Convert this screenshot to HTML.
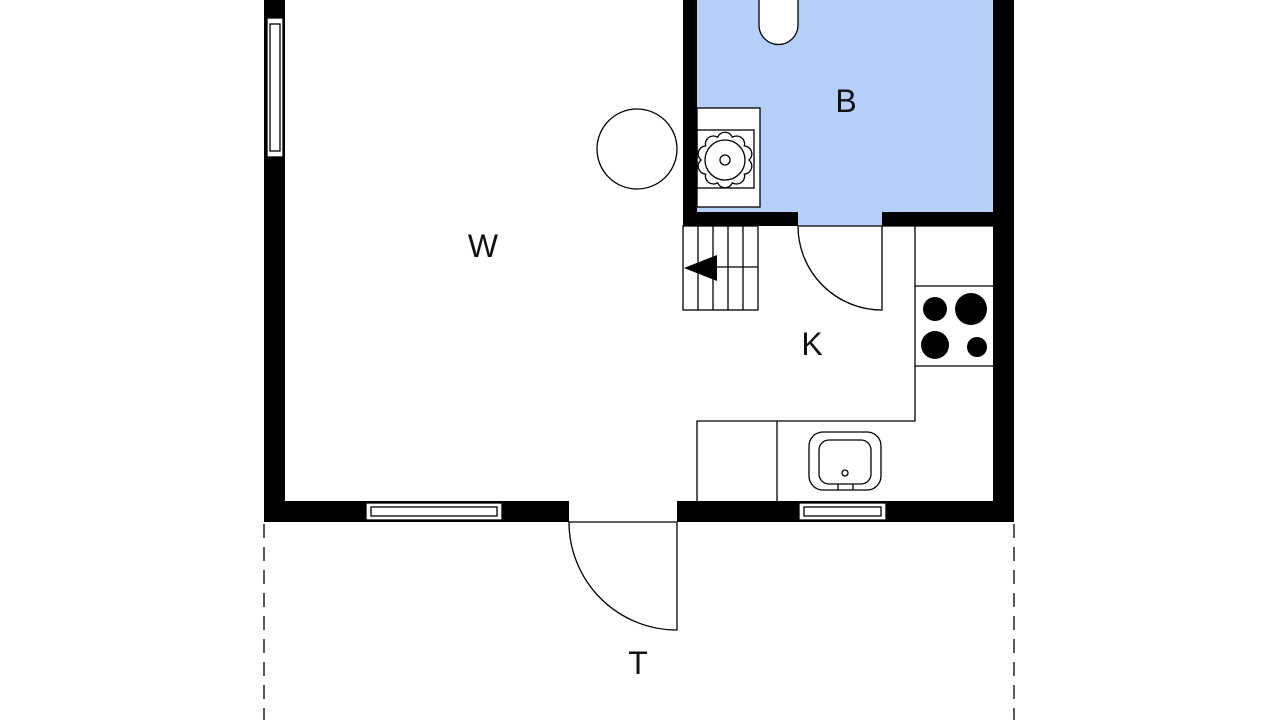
<!DOCTYPE html>
<html><head><meta charset="utf-8"><style>html,body{margin:0;padding:0;background:#fff}svg{display:block}</style></head>
<body>
<svg width="1280" height="720" viewBox="0 0 1280 720" xmlns="http://www.w3.org/2000/svg">
<rect width="1280" height="720" fill="#fff"/>
<rect x="697" y="0" width="296" height="212" fill="#b3cffa"/>
<rect x="798" y="212" width="84" height="14" fill="#b3cffa"/>
<g fill="#000">
<rect x="264" y="0" width="21" height="522"/>
<rect x="264" y="501" width="305" height="21"/>
<rect x="677" y="501" width="337" height="21"/>
<rect x="993" y="0" width="21" height="522"/>
<rect x="683" y="0" width="14" height="226"/>
<rect x="683" y="212" width="115" height="14"/>
<rect x="882" y="212" width="111" height="14"/>
</g>
<g fill="#fff" stroke="#000" stroke-width="1.3">
<rect x="267" y="18" width="16" height="139"/>
<rect x="270" y="24" width="10" height="127"/>
<rect x="366" y="503" width="136" height="17"/>
<rect x="371" y="507" width="126" height="9"/>
<rect x="799" y="503" width="87" height="17"/>
<rect x="804" y="507" width="77" height="9"/>
</g>
<g fill="none" stroke="#000" stroke-width="1.3">
<path d="M759,0 V25 A19.5,19.5 0 0 0 798,25 V0" fill="#fff"/>
<rect x="697" y="108" width="63" height="99" fill="#fff"/>
<rect x="697" y="130" width="57" height="58"/>
<path d="M749,160 A8,8 0 0 1 744.4,174.1 A8,8 0 0 1 732.4,182.8 A8,8 0 0 1 717.6,182.8 A8,8 0 0 1 705.6,174.1 A8,8 0 0 1 701,160 A8,8 0 0 1 705.6,145.9 A8,8 0 0 1 717.6,137.2 A8,8 0 0 1 732.4,137.2 A8,8 0 0 1 744.4,145.9 A8,8 0 0 1 749,160 Z"/>
<circle cx="725" cy="160" r="20"/>
<circle cx="725" cy="160" r="5"/>
<circle cx="637" cy="149" r="40"/>
<rect x="683" y="226" width="75" height="84"/>
<line x1="698" y1="226" x2="698" y2="310"/><line x1="713" y1="226" x2="713" y2="310"/>
<line x1="728" y1="226" x2="728" y2="310"/><line x1="743" y1="226" x2="743" y2="310"/>
<line x1="700" y1="267" x2="758" y2="267"/>
<path d="M798,226 A84,84 0 0 0 882,310 V226"/>
<line x1="798" y1="226" x2="882" y2="226"/>
<polyline points="882,226 993,226"/>
<polyline points="915,226 915,421 697,421 697,501"/>
<line x1="915" y1="286" x2="993" y2="286"/>
<line x1="915" y1="366" x2="993" y2="366"/>
<line x1="777" y1="421" x2="777" y2="501"/>
<rect x="809" y="432" width="72" height="58" rx="14"/>
<rect x="819" y="440" width="52" height="44" rx="10"/>
<circle cx="845" cy="473" r="3"/>
<line x1="838" y1="484" x2="838" y2="490"/><line x1="853" y1="484" x2="853" y2="490"/>
<line x1="569" y1="522" x2="677" y2="522"/>
<path d="M569,522 A108,108 0 0 0 677,630 V522"/>
<line x1="264" y1="524" x2="264" y2="720" stroke-dasharray="14,9"/>
<line x1="1014" y1="524" x2="1014" y2="720" stroke-dasharray="14,9"/>
</g>
<polygon points="684,268 717,255 717,281" fill="#000"/>
<g fill="#000">
<circle cx="935" cy="309" r="12"/><circle cx="971" cy="309" r="16"/>
<circle cx="935" cy="345" r="14"/><circle cx="977" cy="347" r="10"/>
</g>
<g font-family="Liberation Sans, sans-serif" font-size="32" fill="#111" text-anchor="middle">
<text x="483" y="257">W</text>
<text x="846" y="112">B</text>
<text x="812" y="355">K</text>
<text x="638" y="674">T</text>
</g>
</svg>
</body></html>
